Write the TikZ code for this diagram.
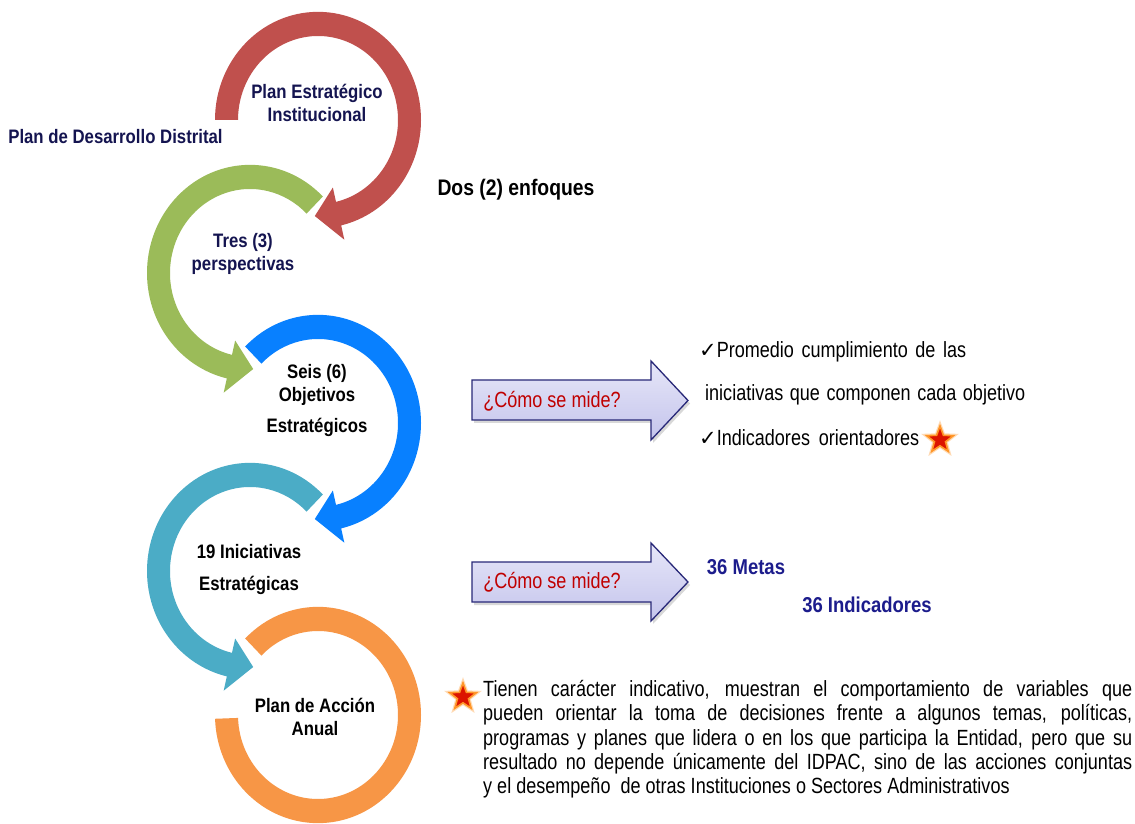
\documentclass[tikz,border=0pt]{standalone}
\usepackage{fontspec}
\setmainfont{Liberation Sans}
\newfontfamily\labfont[FakeStretch=0.86]{Liberation Sans}
\newfontfamily\narfont[FakeStretch=0.82]{Liberation Sans}
\newfontfamily\dvfont{DejaVu Sans}
\usetikzlibrary{shapes.geometric,shadows}
\definecolor{arcred}{RGB}{192,80,77}
\definecolor{arcgreen}{RGB}{155,187,89}
\definecolor{arcblue}{RGB}{8,128,255}
\definecolor{arcteal}{RGB}{75,172,198}
\definecolor{arcorange}{RGB}{247,150,70}
\definecolor{navyT}{RGB}{20,20,80}
\definecolor{blueT}{RGB}{28,28,140}
\definecolor{redT}{RGB}{192,0,0}
\definecolor{arrowtop}{RGB}{230,230,248}
\definecolor{arrowbot}{RGB}{196,196,236}
\definecolor{arrowline}{RGB}{40,40,120}
\definecolor{starred}{RGB}{220,20,0}
\definecolor{starorange}{RGB}{255,150,40}
\newcommand\CircArrowX[5]{%
  \begin{scope}[shift={#1}, yscale=1.05]
    \fill[#5] (#2:103pt) arc[start angle=#2, end angle=#3, radius=103pt]
      -- (#3:117pt) -- (#4:91.5pt) -- (#3:66pt) -- (#3:80pt)
      arc[start angle=#3, end angle=#2, radius=80pt] -- cycle;
  \end{scope}}
\newcommand\chk{{\dvfont\fontsize{21}{20}\selectfont ✓}}
\tikzset{
  lab/.style={font={\labfont\bfseries\fontsize{19.5}{23}\selectfont}, text=navyT, align=center, inner sep=0pt},
  labk/.style={lab, text=black},
  big/.style={font={\labfont\bfseries\fontsize{21.5}{24}\selectfont}, text=blueT, inner sep=0pt},
  txt/.style={font={\narfont\fontsize{22}{24.3}\selectfont}, text=black, inner sep=0pt},
  txtred/.style={txt, text=redT},
  arrowbox/.style={top color=arrowtop, bottom color=arrowbot, draw=arrowline, line width=1.3pt, line join=miter,
    drop shadow={opacity=0.3, shadow xshift=2pt, shadow yshift=-3pt}},
  starmark/.style={star, star points=5, star point ratio=2.4, minimum size=28pt, inner sep=0pt,
    fill=starred, draw=starorange, line width=1.6pt,
    preaction={draw=starorange, line width=4pt, opacity=0.35}}
}
\begin{document}
\begin{tikzpicture}[x=1pt,y=1pt]
\useasboundingbox (0,0) rectangle (1135,823);
\fill[white] (0,0) rectangle (1135,823);
% circular arrows
\CircArrowX{(318,703)}{180}{-77}{-92}{arcred}
\CircArrowX{(250,550)}{45}{257}{272}{arcgreen}
\CircArrowX{(318,400)}{135}{-77}{-92}{arcblue}
\CircArrowX{(250,252)}{45}{257}{272}{arcteal}
\begin{scope}[shift={(318,108)}, yscale=1.05]
  \fill[arcorange] (135:103pt) arc[start angle=135, end angle=-178, radius=103pt]
    -- (-178:80pt) arc[start angle=-178, end angle=135, radius=80pt] -- cycle;
\end{scope}
% labels in the circles
\node[lab] (pdd) at (115.5,686) {Plan de Desarrollo Distrital};
\node[lab] (pei) at (317,720) {Plan Estratégico\\Institucional};
\node[labk, font={\labfont\bfseries\fontsize{22.5}{24}\selectfont}] (dos) at (516,633) {Dos (2) enfoques};
\node[lab] (tres) at (243,569) {Tres (3)\\perspectivas};
\node[labk] (seis) at (317,422) {Seis (6)\\Objetivos\\[8pt]Estratégicos};
\node[labk] (ini) at (249,254) {19 Iniciativas\\[9pt]Estratégicas};
\node[labk] (paa) at (315,106.5) {Plan de Acción\\Anual};
% block arrows
\path[arrowbox] (472,443) -- (651,443) -- (651,462) -- (688,422.5) -- (651,383) -- (651,403) -- (472,403) -- cycle;
\node[txtred] (m1) at (552,422) {¿Cómo se mide?};
\path[arrowbox] (472,261) -- (651,261) -- (651,280) -- (688,241) -- (651,202) -- (651,221) -- (472,221) -- cycle;
\node[txtred] (m2) at (552,241) {¿Cómo se mide?};
% right texts
\node[txt, anchor=west] (p1) at (699,471) {\makebox[267pt][s]{\chk Promedio cumplimiento de las}};
\node[txt, anchor=west] (p2) at (705,428) {\makebox[320pt][s]{iniciativas que componen cada objetivo}};
\node[txt, anchor=west] (p3) at (699,385) {\makebox[220pt][s]{\chk Indicadores orientadores}};
\node[starmark] (s1) at (940,383) {};
\node[big] (metas) at (746,256) {36 Metas};
\node[big] (indic) at (867,218) {36 Indicadores};
% footnote
\node[starmark] (s2) at (463,126) {};
\node[txt, anchor=north west, text width=649pt, align=justify] (nota) at (483,143)
 {\hyphenpenalty=10000\exhyphenpenalty=10000
 Tienen carácter indicativo, muestran el comportamiento de variables que\linebreak
 pueden orientar la toma de decisiones frente a algunos temas, políticas,\linebreak
 programas y planes que lidera o en los que participa la Entidad, pero que su\linebreak
 resultado no depende únicamente del IDPAC, sino de las acciones conjuntas\linebreak
 y el desempeño \ de otras Instituciones o Sectores Administrativos};
\end{tikzpicture}
\end{document}
